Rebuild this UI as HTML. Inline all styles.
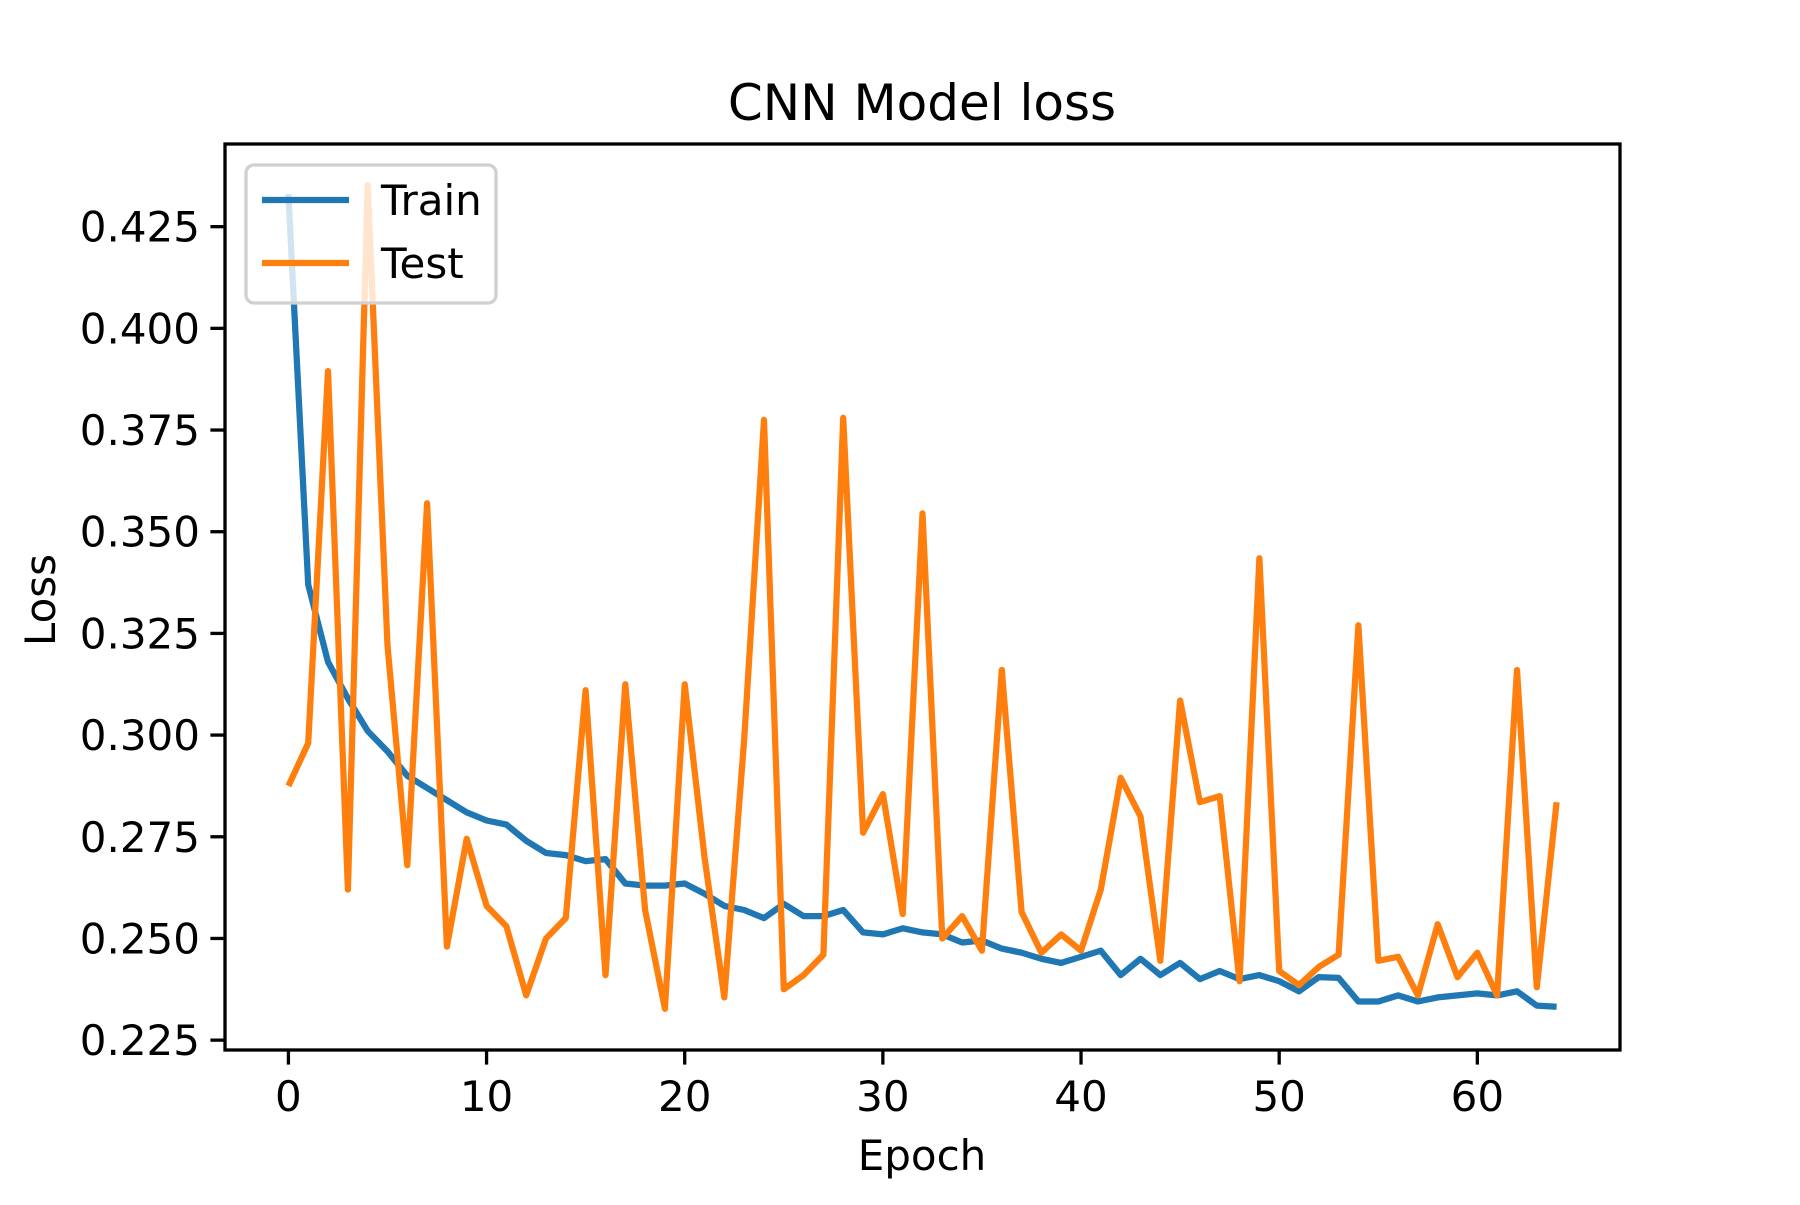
<!DOCTYPE html>
<html><head><meta charset="utf-8"><style>body{margin:0;background:#fff}svg text{font-family:"DejaVu Sans","Liberation Sans",sans-serif}</style></head>
<body>
<svg id="chart" width="1800" height="1200" xmlns="http://www.w3.org/2000/svg">
<rect width="1800" height="1200" fill="#fff"/>
<text x="922" y="120" font-size="50" text-anchor="middle">CNN Model loss</text>
<text x="922" y="1170" font-size="42" text-anchor="middle">Epoch</text>
<text transform="translate(55,600) rotate(-90)" font-size="42" text-anchor="middle">Loss</text>
<g id="ticks"></g>
<g id="series"></g>
<rect x="225" y="144" width="1395" height="906" fill="none" stroke="#000" stroke-width="3.3"/>
<g>
<rect x="246" y="165" width="250" height="138" rx="8" fill="#fff" fill-opacity="0.8" stroke="#d0d0d0" stroke-width="3.3"/>
<line x1="262" y1="200" x2="349" y2="200" stroke="#1f77b4" stroke-width="6.25"/>
<text x="381" y="215" font-size="42">Train</text>
<line x1="262" y1="263" x2="349" y2="263" stroke="#ff7f0e" stroke-width="6.25"/>
<text x="381" y="278" font-size="42">Test</text>
</g>
</svg>
<script>
const trainLoss = [0.433,0.337,0.318,0.309,0.301,0.296,0.290,0.287,0.284,0.281,0.279,0.278,0.274,0.271,0.2705,0.269,0.2695,0.2635,0.263,0.263,0.2635,0.261,0.258,0.257,0.255,0.2585,0.2555,0.2555,0.257,0.2515,0.251,0.2525,0.2515,0.251,0.249,0.2495,0.2475,0.2465,0.245,0.244,0.2455,0.247,0.241,0.245,0.241,0.244,0.240,0.242,0.240,0.241,0.2395,0.237,0.2405,0.2403,0.2345,0.2345,0.236,0.2345,0.2355,0.236,0.2365,0.236,0.237,0.2335,0.2332];
const testLoss = [0.2875,0.298,0.3895,0.262,0.4352,0.322,0.268,0.357,0.248,0.2745,0.258,0.253,0.236,0.250,0.255,0.311,0.241,0.3125,0.257,0.2327,0.3125,0.270,0.2355,0.299,0.3775,0.2375,0.241,0.246,0.378,0.276,0.2855,0.256,0.3545,0.250,0.2555,0.247,0.316,0.2565,0.2465,0.251,0.247,0.262,0.2895,0.280,0.2445,0.3085,0.2835,0.285,0.2395,0.3435,0.242,0.2385,0.243,0.246,0.327,0.2445,0.2455,0.236,0.2535,0.2405,0.2465,0.236,0.316,0.238,0.2835];
const xTicks = [0,10,20,30,40,50,60];
const yTicks = [0.225,0.250,0.275,0.300,0.325,0.350,0.375,0.400,0.425];
const yTickLabels = ["0.225","0.250","0.275","0.300","0.325","0.350","0.375","0.400","0.425"];

const NS="http://www.w3.org/2000/svg";
const L=225,R=1620,T=144,B=1050;
const all=trainLoss.concat(testLoss);
const n=Math.max(trainLoss.length,testLoss.length)-1;
const xmin=-0.05*n,xmax=n*1.05;
const dmin=Math.min(...all),dmax=Math.max(...all),pad=(dmax-dmin)*0.05;
const ymin=dmin-pad,ymax=dmax+pad;
const sx=v=>L+(v-xmin)/(xmax-xmin)*(R-L);
const sy=v=>B-(v-ymin)/(ymax-ymin)*(B-T);
const tg=document.getElementById('ticks');
xTicks.forEach(t=>{
  const x=sx(t);
  const ln=document.createElementNS(NS,'line');
  ln.setAttribute('x1',x);ln.setAttribute('x2',x);ln.setAttribute('y1',B);ln.setAttribute('y2',B+14.6);
  ln.setAttribute('stroke','#000');ln.setAttribute('stroke-width','3.3');
  
  
  tg.appendChild(ln);
  const tx=document.createElementNS(NS,'text');
  tx.setAttribute('x',x);tx.setAttribute('y',B+61);tx.setAttribute('font-size','42');tx.setAttribute('text-anchor','middle');
  tx.textContent=t;
  
  
  tg.appendChild(tx);
});
yTicks.forEach((t,i)=>{
  const y=sy(t);
  const ln=document.createElementNS(NS,'line');
  ln.setAttribute('x1',L-14.6);ln.setAttribute('x2',L);ln.setAttribute('y1',y);ln.setAttribute('y2',y);
  ln.setAttribute('stroke','#000');ln.setAttribute('stroke-width','3.3');
  
  
  tg.appendChild(ln);
  const tx=document.createElementNS(NS,'text');
  tx.setAttribute('x',L-25);tx.setAttribute('y',y+15);tx.setAttribute('font-size','42');tx.setAttribute('text-anchor','end');
  tx.textContent=yTickLabels[i];
  
  
  tg.appendChild(tx);
});
const sg=document.getElementById('series');
function line(arr,color,name){
  const p=document.createElementNS(NS,'polyline');
  p.setAttribute('points',arr.map((v,i)=>sx(i).toFixed(1)+','+sy(v).toFixed(1)).join(' '));
  p.setAttribute('fill','none');p.setAttribute('stroke',color);p.setAttribute('stroke-width','6.25');
  p.setAttribute('stroke-linejoin','round');
  
  
  sg.appendChild(p);
}
line(trainLoss,'#1f77b4','train-line');
line(testLoss,'#ff7f0e','test-line');
</script>
</body></html>
